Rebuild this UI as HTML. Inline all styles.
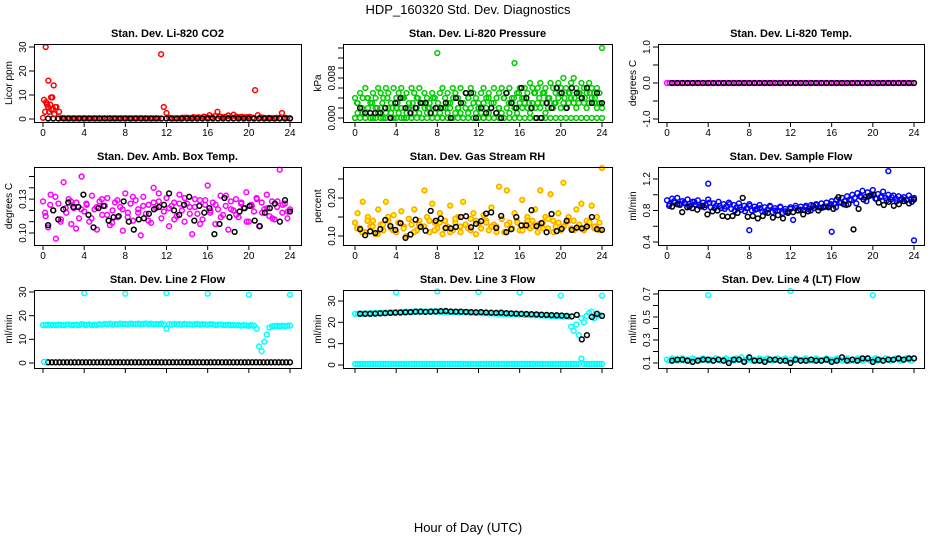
<!DOCTYPE html>
<html><head><meta charset="utf-8">
<style>
html,body{margin:0;padding:0;background:#fff;}
svg{display:block;font-family:"Liberation Sans",Arial,sans-serif;}
</style></head>
<body>
<svg id="chart" width="936" height="540" viewBox="0 0 936 540" xmlns="http://www.w3.org/2000/svg">
<rect x="0" y="0" width="936" height="540" fill="#fff"/>
<text x="468" y="14" text-anchor="middle" font-size="13">HDP_160320  Std. Dev. Diagnostics</text>
<text x="468" y="532" text-anchor="middle" font-size="13">Hour of Day (UTC)</text>
</svg>
<script>
// ---- data (spread evenly over 0..24 h) ----
const xTicks = [0,4,8,12,16,20,24];
const co2Red = [0.5,30,16,9,14,5,3,0.4,0.3,0.3,0.3,0.3,0.3,0.3,0.3,0.3,0.3,0.3,0.3,0.3,0.3,0.3,0.3,0.3,0.3,0.3,0.3,0.3,0.3,0.3,0.3,0.3,0.3,0.3,0.3,0.3,0.3,0.3,0.3,0.3,0.3,0.3,0.3,0.3,27,5,2.5,0.5,0.3,0.3,0.3,0.3,0.5,0.6,0.5,0.4,0.8,0.6,0.7,0.5,1.0,0.8,1.6,0.8,1.2,3.0,1.0,0.8,0.9,1.5,0.8,1.8,1.0,0.8,0.9,0.7,0.8,0.9,0.6,12,1.6,0.7,0.5,0.4,0.5,0.4,0.3,0.5,0.4,2.5,0.6,0.4,0.3];
const co2RedEarlyHours = [0.1,0.2,0.3,0.4,0.5,0.6,0.8,0.9,1.1,1.2,0.7,1.0];
const co2RedEarlyValues = [8,3,7,6,5,3,4,9,2,5,6,4];
const co2Black = [0.2,0.2,0.2,0.2,0.2,0.2,0.2,0.2,0.2,0.2,0.2,0.2,0.2,0.2,0.2,0.2,0.2,0.2,0.2,0.2,0.2,0.2,0.2,0.2,0.2,0.2,0.2,0.2,0.2,0.2,0.2,0.2,0.2,0.2,0.2,0.2,0.2,0.2,0.2,0.2,0.2,0.2,0.2,0.2,0.2,0.2,0.2,0.2];
const presGreenHi = [0.004,0.003,0.005,0.004,0.006,0.004,0.003,0.005,0.004,0.006,0.005,0.004,0.006,0.005,0.003,0.006,0.004,0.005,0.006,0.004,0.005,0.003,0.006,0.005,0.004,0.006,0.003,0.005,0.004,0.003,0.005,0.004,0.013,0.005,0.006,0.004,0.005,0.003,0.006,0.005,0.004,0.006,0.003,0.005,0.004,0.006,0.005,0.004,0.003,0.005,0.006,0.004,0.005,0.003,0.006,0.004,0.005,0.006,0.004,0.005,0.006,0.004,0.011,0.005,0.006,0.004,0.006,0.005,0.007,0.006,0.005,0.006,0.007,0.005,0.006,0.004,0.007,0.006,0.005,0.007,0.006,0.008,0.006,0.005,0.007,0.008,0.006,0.005,0.007,0.006,0.005,0.007,0.006,0.005,0.006,0.005,0.014];
const presGreenLo = [0,0.001,0.002,0.001,0,0.002,0.001,0,0.002,0.001,0.002,0,0.001,0.002,0.001,0,0.002,0.001,0.002,0,0.001,0.002,0,0.001,0.002,0.001,0,0.002,0.001,0.002,0,0.001,0.002,0.001,0,0.002,0.001,0.002,0,0.001,0.002,0.001,0,0.002,0.001,0.002,0,0.001,0.002,0.001,0,0.002,0.001,0.002,0,0.001,0.002,0.001,0,0.002,0.001,0.003,0.002,0.001,0.003,0.002,0.003,0.002,0.001,0.003,0.002,0.003,0.002,0.003,0.001,0.002,0.003,0.002,0.003,0.004,0.002,0.003,0.002,0.003,0.004,0.003,0.002,0.003,0.004,0.003,0.002,0.003,0.004,0.003,0.002,0.003,0.002];
const presGreenMid = [0.003,0.002,0.004,0.003,0.002,0.003,0.004,0.002,0.003,0.004,0.002,0.003,0.004,0.003,0.002,0.004,0.003,0.002,0.003,0.004,0.002,0.003,0.004,0.003,0.002,0.003,0.004,0.003,0.002,0.004,0.003,0.004,0.005,0.004,0.003,0.005,0.004,0.005,0.004,0.003,0.005,0.004,0.005,0.004,0.005,0.004,0.005,0.004,0.003];
const presGreenZero = [0,0,0,0,0,0,0,0,0,0,0,0,0,0,0,0,0,0,0,0,0,0,0,0,0,0,0,0,0,0,0,0,0,0,0,0,0,0,0,0,0,0,0,0,0,0,0,0,0];
const presBlack = [0.002,0.001,0.001,0.001,0.001,0.002,0,0.003,0.004,0.002,0.001,0.002,0.003,0.003,0.001,0.002,0.002,0.003,0,0.004,0.003,0.005,0.005,0,0.002,0.001,0.002,0.001,0,0.005,0.003,0.002,0.006,0.004,0.002,0,0,0.003,0.002,0.006,0.005,0.002,0.006,0.005,0.004,0.006,0.003,0.005,0.003];
const tempMagenta = [0,0,0,0,0,0,0,0,0,0,0,0,0,0,0,0,0,0,0,0,0,0,0,0,0,0,0,0,0,0,0,0,0,0,0,0,0,0,0,0,0,0,0,0,0,0,0,0,0,0,0,0,0,0,0,0,0,0,0,0,0,0,0,0,0,0,0,0,0,0,0,0,0,0,0,0,0,0,0,0,0,0,0,0,0,0,0,0,0,0,0,0,0,0,0,0,0];
const tempBlack = [0,0,0,0,0,0,0,0,0,0,0,0,0,0,0,0,0,0,0,0,0,0,0,0,0,0,0,0,0,0,0,0,0,0,0,0,0,0,0,0,0,0,0,0,0,0,0,0];
const ambMagentaA = [0.128,0.115,0.105,0.134,0.120,0.095,0.126,0.112,0.145,0.118,0.130,0.108,0.122,0.127,0.113,0.150,0.119,0.125,0.110,0.133,0.121,0.103,0.128,0.116,0.124,0.131,0.107,0.120,0.127,0.114,0.123,0.102,0.135,0.118,0.126,0.111,0.129,0.121,0.098,0.132,0.117,0.125,0.109,0.140,0.122,0.128,0.113,0.119,0.131,0.106,0.124,0.127,0.115,0.134,0.120,0.110,0.126,0.123,0.099,0.130,0.117,0.129,0.112,0.125,0.142,0.118,0.127,0.108,0.121,0.133,0.116,0.124,0.103,0.128,0.120,0.130,0.114,0.126,0.122,0.136,0.110,0.125,0.119,0.131,0.106,0.127,0.121,0.134,0.115,0.128,0.112,0.123,0.156,0.118,0.126,0.113,0.121];
const ambMagentaB = [0.118,0.125,0.132,0.110,0.122,0.128,0.104,0.121,0.126,0.113,0.123,0.130,0.116,0.109,0.129,0.121,0.114,0.132,0.118,0.124,0.111,0.127,0.135,0.119,0.122,0.112,0.126,0.131,0.117,0.123,0.108,0.129,0.120,0.125,0.114,0.133,0.121,0.116,0.127,0.110,0.124,0.130,0.118,0.122,0.113,0.128,0.125,0.119];
const ambBlack = [0.107,0.120,0.112,0.121,0.127,0.123,0.123,0.134,0.116,0.105,0.122,0.124,0.111,0.114,0.115,0.128,0.110,0.103,0.112,0.113,0.117,0.121,0.123,0.125,0.135,0.120,0.116,0.125,0.132,0.111,0.124,0.118,0.122,0.099,0.108,0.131,0.114,0.101,0.119,0.122,0.124,0.111,0.106,0.118,0.122,0.126,0.110,0.129,0.119];
const rhOrangeA = [0.135,0.160,0.120,0.190,0.110,0.150,0.125,0.140,0.105,0.170,0.130,0.115,0.190,0.140,0.120,0.155,0.110,0.135,0.165,0.125,0.100,0.145,0.130,0.170,0.115,0.140,0.125,0.220,0.150,0.110,0.185,0.135,0.120,0.160,0.105,0.140,0.125,0.180,0.115,0.135,0.150,0.110,0.190,0.130,0.120,0.145,0.160,0.105,0.135,0.120,0.155,0.140,0.115,0.175,0.130,0.125,0.230,0.145,0.110,0.220,0.135,0.120,0.160,0.140,0.115,0.195,0.130,0.150,0.120,0.140,0.170,0.110,0.220,0.135,0.150,0.120,0.210,0.140,0.125,0.160,0.115,0.240,0.135,0.150,0.120,0.140,0.170,0.125,0.185,0.115,0.140,0.130,0.180,0.120,0.150,0.135,0.290];
const rhOrangeB = [0.120,0.110,0.140,0.125,0.105,0.130,0.150,0.115,0.135,0.120,0.145,0.110,0.130,0.125,0.140,0.115,0.135,0.120,0.110,0.145,0.125,0.130,0.115,0.140,0.120,0.135,0.125,0.110,0.145,0.130,0.120,0.135,0.115,0.140,0.125,0.130,0.120,0.145,0.110,0.135,0.125,0.140,0.115,0.130,0.120,0.135,0.125,0.115];
const rhBlack = [0.118,0.102,0.112,0.108,0.118,0.142,0.126,0.116,0.134,0.095,0.104,0.143,0.124,0.114,0.166,0.140,0.146,0.121,0.120,0.124,0.150,0.152,0.123,0.132,0.139,0.159,0.162,0.121,0.153,0.110,0.118,0.150,0.128,0.128,0.168,0.126,0.134,0.110,0.158,0.113,0.119,0.140,0.116,0.122,0.120,0.125,0.150,0.118,0.116];
const flowBlueA = [0.93,0.88,0.95,0.90,0.96,0.87,0.92,0.89,0.94,0.86,0.91,0.88,0.93,0.85,0.90,0.87,0.94,0.84,0.89,0.86,0.91,0.83,0.88,0.85,0.90,0.82,0.87,0.84,0.89,0.81,0.86,0.83,0.88,0.80,0.85,0.82,0.87,0.79,0.84,0.81,0.86,0.78,0.83,0.80,0.85,0.77,0.82,0.79,0.84,0.68,0.83,0.80,0.85,0.81,0.86,0.82,0.87,0.83,0.88,0.84,0.89,0.85,0.90,0.86,0.92,0.88,0.94,0.90,0.96,0.92,0.98,0.94,1.00,0.96,1.02,0.98,1.05,0.97,1.03,0.99,1.06,0.95,1.01,0.97,1.04,0.96,1.00,0.94,0.99,0.95,0.98,0.94,0.97,0.93,0.99,0.95,0.96];
const flowBlueB = [0.86,0.92,0.88,0.90,0.85,0.91,0.87,0.84,0.90,0.83,0.86,0.82,0.88,0.80,0.84,0.79,0.86,0.81,0.83,0.78,0.85,0.80,0.84,0.79,0.82,0.86,0.81,0.84,0.80,0.87,0.83,0.85,0.88,0.84,0.90,0.87,0.93,0.89,0.97,0.92,1.00,0.95,0.98,0.93,0.97,0.92,0.95,0.94,0.91];
const flowBlack = [0.85,0.88,0.78,0.84,0.83,0.81,0.86,0.75,0.79,0.80,0.73,0.72,0.73,0.77,0.96,0.72,0.73,0.70,0.73,0.77,0.71,0.74,0.70,0.77,0.78,0.80,0.75,0.79,0.86,0.80,0.84,0.84,0.82,0.97,0.88,0.88,0.56,0.82,0.94,0.98,1.00,0.90,0.87,0.91,0.86,0.88,0.92,0.89,0.94];
const line2Cyan = [16,16,16.2,16,16.1,16,16.2,16.1,16,16.2,16.3,16,16.1,16.2,16,16.4,16.2,16.1,16.3,16,16.2,16.1,16.4,16.2,16.5,16.3,16.6,16.2,16.4,16.3,16.6,16.4,16.5,16.3,16.7,16.4,16.5,16.6,16.3,16.5,16.7,16.4,16.6,16.3,16.5,16.4,16.6,16.3,14.5,16.4,16.2,16.5,16.3,16.4,16.2,16.5,16.3,16.4,16.2,16.3,16.5,16.2,16.4,16.3,16.2,16.4,16.3,16.1,16.2,16.3,16.1,16,16.2,16,16.1,15.9,16,15.8,16,15.9,15.7,16,15.8,14.5,7,5,9,12,15,15.5,15.6,15.7,15.5,15.8,15.6,15.7,15.8];
const line2Black = [0.3,0.3,0.3,0.3,0.3,0.3,0.3,0.3,0.3,0.3,0.3,0.3,0.3,0.3,0.3,0.3,0.3,0.3,0.3,0.3,0.3,0.3,0.3,0.3,0.3,0.3,0.3,0.3,0.3,0.3,0.3,0.3,0.3,0.3,0.3,0.3,0.3,0.3,0.3,0.3,0.3,0.3,0.3,0.3,0.3,0.3,0.3,0.3,0.3,0.3,0.3,0.3,0.3,0.3,0.3,0.3,0.3,0.3,0.3,0.3,0.3,0.3,0.3,0.3,0.3];
const line2OutHours = [4,8,12,16,20,24,0.1];
const line2OutValues = [29.5,29.3,29.5,29.3,28.8,28.8,0.5];
const line3Cyan = [24,24,24.1,24,24.2,24.1,24.3,24.2,24.4,24.3,24.5,24.4,24.6,24.5,24.7,24.6,24.8,24.7,24.9,24.8,25,24.9,25,24.9,25.1,25,25.2,25,25.1,25,25.2,25.1,25,25.1,24.9,25,24.9,25,24.8,24.9,24.8,24.7,24.8,24.6,24.7,24.5,24.6,24.4,24.5,24.4,24.3,24.4,24.2,24.3,24.1,24.2,24,24.1,23.9,24,23.8,23.9,23.7,23.8,23.6,23.7,23.5,23.6,23.4,23.5,23.3,23.4,23.2,23.3,23.1,23.2,23,23.1,22.9,23,22.8,22.7,22.8,22.6,18,16,19,14,22,20,23,24.5,25,22,23,23.5,23];
const line3Zero = [0.5,0.5,0.5,0.5,0.5,0.5,0.5,0.5,0.5,0.5,0.5,0.5,0.5,0.5,0.5,0.5,0.5,0.5,0.5,0.5,0.5,0.5,0.5,0.5,0.5,0.5,0.5,0.5,0.5,0.5,0.5,0.5,0.5,0.5,0.5,0.5,0.5,0.5,0.5,0.5,0.5,0.5,0.5,0.5,0.5,0.5,0.5,0.5,0.5,0.5,0.5,0.5,0.5,0.5,0.5,0.5,0.5,0.5,0.5,0.5,0.5,0.5,0.5,0.5,0.5,0.5,0.5,0.5,0.5,0.5,0.5,0.5,0.5,0.5,0.5,0.5,0.5,0.5,0.5,0.5,0.5,0.5,0.5,0.5,0.5,0.5,0.5,0.5,3,0.5,0.5,0.5,0.5,0.5,0.5,0.5,0.5];
const line3Black = [24,24,24,24.1,24.2,24.3,24.4,24.5,24.6,24.7,24.8,25,25,24.9,25,25.1,25.2,25.3,25.1,25,25,24.9,24.8,24.7,24.8,24.6,24.5,24.4,24.5,24.3,24.2,24.1,24,23.9,23.8,23.7,23.6,23.5,23.4,23.3,23.2,23,22.8,23.5,12,14,22.5,24,23];
const line3OutHours = [4,8,12,16,20,24];
const line3OutValues = [34,34.5,34.2,34,32.5,32.5];
const line4Cyan = [0.13,0.12,0.14,0.13,0.12,0.13,0.14,0.12,0.13,0.12,0.14,0.13,0.12,0.13,0.14,0.13,0.12,0.13,0.12,0.14,0.13,0.12,0.13,0.14,0.12,0.13,0.12,0.14,0.13,0.15,0.12,0.13,0.14,0.12,0.13,0.12,0.14,0.13,0.12,0.14,0.13,0.12,0.13,0.14,0.12,0.13,0.14,0.12,0.13,0.12,0.14,0.13,0.12,0.13,0.14,0.12,0.13,0.12,0.14,0.13,0.12,0.13,0.14,0.12,0.13,0.12,0.14,0.13,0.12,0.13,0.14,0.12,0.13,0.12,0.14,0.13,0.12,0.13,0.14,0.12,0.13,0.14,0.12,0.13,0.12,0.14,0.13,0.12,0.13,0.14,0.13,0.12,0.13,0.14,0.13,0.12,0.14];
const line4Black = [0.12,0.13,0.13,0.12,0.11,0.12,0.13,0.13,0.12,0.13,0.12,0.10,0.13,0.13,0.11,0.15,0.12,0.12,0.11,0.13,0.13,0.12,0.12,0.10,0.13,0.12,0.12,0.13,0.12,0.12,0.13,0.11,0.12,0.15,0.12,0.13,0.12,0.14,0.14,0.11,0.13,0.12,0.13,0.13,0.14,0.13,0.14,0.14];
const line4OutHours = [4,12,20];
const line4OutValues = [0.69,0.74,0.69];

// ---- layout ----
const NS = "http://www.w3.org/2000/svg";
const svg = document.getElementById('chart');
const cols = [{bl:34,br:301,x0:43,x24:290},{bl:343,br:612,x0:355,x24:602},{bl:658,br:924,x0:667,x24:914}];
const rows = [{top:44,bot:122},{top:167,bot:245},{top:290,bot:368}];

const panels = [
 {name:'co2',c:0,r:0,title:'Stan. Dev. Li-820 CO2',ylab:'Licor ppm',ym:[0,119,30,47],ticks:[0,10,20,30],labels:['0','10','20','30'],
  series:[{d:co2Red,col:'#ff0000',s:0,e:24},{d:co2Black,col:'#000',s:0.5,e:24}],
  out:[{h:co2RedEarlyHours,v:co2RedEarlyValues,col:'#ff0000'}]},
 {name:'pressure',c:1,r:0,title:'Stan. Dev. Li-820 Pressure',ylab:'kPa',ym:[0,118,0.014,48],ticks:[0,0.002,0.004,0.006,0.008,0.010,0.012,0.014],labels:['0.000','','','','0.008','','',''],
  series:[{d:presGreenZero,col:'#00cc00',s:0,e:24},{d:presGreenLo,col:'#00cc00',s:0,e:24},{d:presGreenMid,col:'#00cc00',s:0.2,e:23.8},{d:presGreenHi,col:'#00cc00',s:0,e:24},{d:presBlack,col:'#000',s:0.5,e:24}],out:[]},
 {name:'li820-temp',c:2,r:0,title:'Stan. Dev. Li-820 Temp.',ylab:'degrees C',ym:[-1,119,1,47],ticks:[-1,-0.5,0,0.5,1],labels:['-1.0','','0.0','','1.0'],
  series:[{d:tempMagenta,col:'#ff00ff',s:0,e:24},{d:tempBlack,col:'#000',s:0.5,e:24}],out:[]},
 {name:'amb-box-temp',c:0,r:1,title:'Stan. Dev. Amb. Box Temp.',ylab:'degrees C',ym:[0.10,233,0.15,176.5],ticks:[0.10,0.11,0.12,0.13,0.14,0.15],labels:['0.10','','','0.13','',''],
  series:[{d:ambMagentaA,col:'#ff00ff',s:0,e:24},{d:ambMagentaB,col:'#ff00ff',s:0.2,e:23.8},{d:ambBlack,col:'#000',s:0.5,e:24}],out:[]},
 {name:'gas-rh',c:1,r:1,title:'Stan. Dev. Gas Stream RH',ylab:'percent',ym:[0.10,236,0.20,198],ticks:[0.10,0.15,0.20,0.25],labels:['0.10','','0.20',''],
  series:[{d:rhOrangeA,col:'#ffa500',fill:'#ffff00',s:0,e:24},{d:rhOrangeB,col:'#ffa500',fill:'#ffff00',s:0.2,e:23.8},{d:rhBlack,col:'#000',s:0.5,e:24}],out:[]},
 {name:'sample-flow',c:2,r:1,title:'Stan. Dev. Sample Flow',ylab:'ml/min',ym:[0.4,242,1.2,179],ticks:[0.4,0.6,0.8,1.0,1.2],labels:['0.4','','0.8','','1.2'],
  series:[{d:flowBlueA,col:'#0000ff',s:0,e:24},{d:flowBlueB,col:'#0000ff',s:0.2,e:23.8},{d:flowBlack,col:'#000',s:0.5,e:24}],
  out:[{h:[4,8,16,21.5,24],v:[1.14,0.55,0.53,1.3,0.42],col:'#0000ff'}]},
 {name:'line2-flow',c:0,r:2,title:'Stan. Dev. Line 2 Flow',ylab:'ml/min',ym:[0,363,30,292],ticks:[0,10,20,30],labels:['0','10','20','30'],
  series:[{d:line2Cyan,col:'#00ffff',s:0,e:24},{d:line2Black,col:'#000',s:0.5,e:24}],
  out:[{h:line2OutHours,v:line2OutValues,col:'#00ffff'}]},
 {name:'line3-flow',c:1,r:2,title:'Stan. Dev. Line 3 Flow',ylab:'ml/min',ym:[0,365,30,301],ticks:[0,10,20,30],labels:['0','10','20','30'],
  series:[{d:line3Zero,col:'#00ffff',s:0,e:24},{d:line3Cyan,col:'#00ffff',s:0,e:24},{d:line3Black,col:'#000',s:0.5,e:24}],
  out:[{h:line3OutHours,v:line3OutValues,col:'#00ffff'}]},
 {name:'line4-flow',c:2,r:2,title:'Stan. Dev. Line 4 (LT) Flow',ylab:'ml/min',ym:[0.1,363,0.7,294],ticks:[0.1,0.2,0.3,0.4,0.5,0.6,0.7],labels:['0.1','','0.3','','0.5','','0.7'],
  series:[{d:line4Cyan,col:'#00ffff',s:0,e:24},{d:line4Black,col:'#000',s:0.5,e:24}],
  out:[{h:line4OutHours,v:line4OutValues,col:'#00ffff'}]}
];

function mk(tag, attrs, parent){
  const el = document.createElementNS(NS, tag);
  for (const k in attrs) el.setAttribute(k, attrs[k]);
  (parent||svg).appendChild(el);
  return el;
}

panels.forEach(p => {
  const C = cols[p.c], R = rows[p.r];
  const xs = h => C.x0 + (C.x24 - C.x0) * h / 24;
  const ys = v => p.ym[1] + (v - p.ym[0]) * (p.ym[3] - p.ym[1]) / (p.ym[2] - p.ym[0]);
  const g = mk('g', {});
  
  

  const t = mk('text', {x:(C.bl+C.br)/2, y:R.top-7, 'text-anchor':'middle', 'font-size':'11', 'font-weight':'bold'}, g);
  t.textContent = p.title;
  
  

  const pts = mk('g', {'stroke-width':'1.5'}, g);
  
  
  const drawPt = (h, v, col, fill) => {
    const y = Math.max(R.top+1, Math.min(R.bot-1, ys(v)));
    const c = mk('circle', {cx:xs(h).toFixed(1), cy:y.toFixed(1), r:'2.4', stroke:col, fill:fill||'none'}, pts);
    
    
  };
  p.series.forEach(s => {
    const n = s.d.length;
    s.d.forEach((v, i) => drawPt(s.s + (s.e - s.s) * i / (n - 1), v, s.col, s.fill));
  });
  p.out.forEach(o => o.h.forEach((h, i) => drawPt(h, o.v[i], o.col)));

  const box = mk('rect', {x:C.bl+0.5, y:R.top+0.5, width:C.br-C.bl, height:R.bot-R.top, fill:'none', stroke:'#000', 'stroke-width':'1'}, g);
  
  

  const xa = mk('g', {}, g);
  
  
  xTicks.forEach(h => {
    mk('line', {x1:xs(h), x2:xs(h), y1:R.bot, y2:R.bot+5, stroke:'#000'}, xa);
    if (p.r < 2) {
      const tl = mk('text', {x:xs(h), y:R.bot+14, 'text-anchor':'middle', 'font-size':'10'}, xa);
      tl.textContent = h;
      
      
    }
  });

  const ya = mk('g', {}, g);
  
  
  p.ticks.forEach((v, i) => {
    const y = ys(v);
    mk('line', {x1:C.bl-5, x2:C.bl, y1:y, y2:y, stroke:'#000'}, ya);
    if (p.labels[i]) {
      const tl = mk('text', {x:C.bl-8, y:y, 'text-anchor':'middle', 'font-size':'10', transform:`rotate(-90 ${C.bl-8} ${y})`}, ya);
      tl.textContent = p.labels[i];
      
      
    }
  });
  const yt = mk('text', {x:C.bl-22, y:(R.top+R.bot)/2, 'text-anchor':'middle', 'font-size':'10', transform:`rotate(-90 ${C.bl-22} ${(R.top+R.bot)/2})`}, g);
  yt.textContent = p.ylab;
  
  
});
</script>
</body></html>
